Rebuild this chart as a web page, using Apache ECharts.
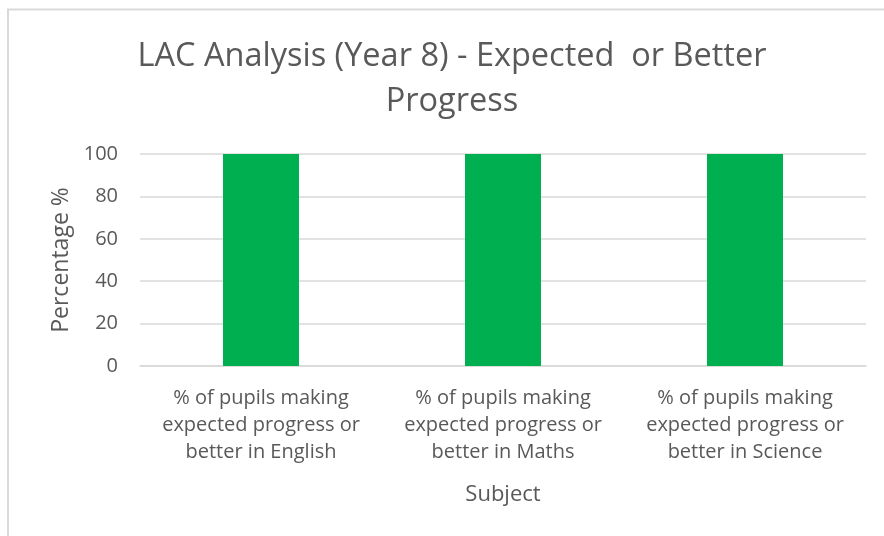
<!DOCTYPE html>
<html>
<head>
<meta charset="utf-8">
<script src="https://cdn.jsdelivr.net/npm/echarts@6/dist/echarts.min.js"></script>
<style>
  html, body { margin: 0; padding: 0; background: #fff; }
  #main { width: 884px; height: 536px; }
</style>
</head>
<body>
<div id="main"></div>
<script>
// data
const categories = [
  '% of pupils making\nexpected progress or\nbetter in English',
  '% of pupils making\nexpected progress or\nbetter in Maths',
  '% of pupils making\nexpected progress or\nbetter in Science'
]
const values = [100, 100, 100]
const yTicks = [0, 20, 40, 60, 80, 100]

const textColor = '#595959'
const fontFamily = '"Open Sans", sans-serif'

const chart = echarts.init(document.getElementById('main'))

const option = {
  backgroundColor: '#fff',
  animation: false,
  // outer chart border
  graphic: [{
    type: 'rect',
    shape: { x: 8, y: 9.5, width: 900, height: 600 },
    style: { fill: 'none', stroke: '#d9d9d9', lineWidth: 2 },
    silent: true
  }],
  title: {
    text: 'LAC Analysis (Year 8) - Expected  or Better\nProgress',
    left: 452,
    top: 34,
    padding: 0,
    textAlign: 'center',
    textStyle: {
      fontFamily: fontFamily,
      fontSize: 32.5,
      fontWeight: 'normal',
      color: textColor,
      lineHeight: 45
    }
  },
  grid: {
    left: 140,
    right: 18,
    top: 154,
    bottom: 170
  },
  xAxis: {
    type: 'category',
    data: categories,
    name: 'Subject',
    nameLocation: 'middle',
    nameGap: 118,
    nameTextStyle: { fontFamily: fontFamily, fontSize: 22, color: textColor },
    axisLine: { lineStyle: { color: '#d9d9d9', width: 1.5 } },
    axisTick: { show: false },
    axisLabel: {
      fontFamily: fontFamily,
      fontSize: 20,
      color: textColor,
      lineHeight: 27,
      margin: 19,
      interval: 0
    }
  },
  yAxis: {
    type: 'value',
    min: yTicks[0],
    max: yTicks[yTicks.length - 1],
    interval: 20,
    name: 'Percentage %',
    nameLocation: 'middle',
    nameGap: 66,
    nameRotate: 90,
    nameTextStyle: { fontFamily: fontFamily, fontSize: 23, color: textColor },
    axisLine: { show: false },
    axisTick: { show: false },
    axisLabel: {
      fontFamily: fontFamily,
      fontSize: 20,
      color: textColor,
      margin: 22
    },
    splitLine: { lineStyle: { color: '#d9d9d9', width: 1.5 } }
  },
  series: [{
    type: 'bar',
    data: values,
    barWidth: '31.4%',
    itemStyle: { color: '#00b050' }
  }]
}

chart.setOption(option)
</script>
</body>
</html>
